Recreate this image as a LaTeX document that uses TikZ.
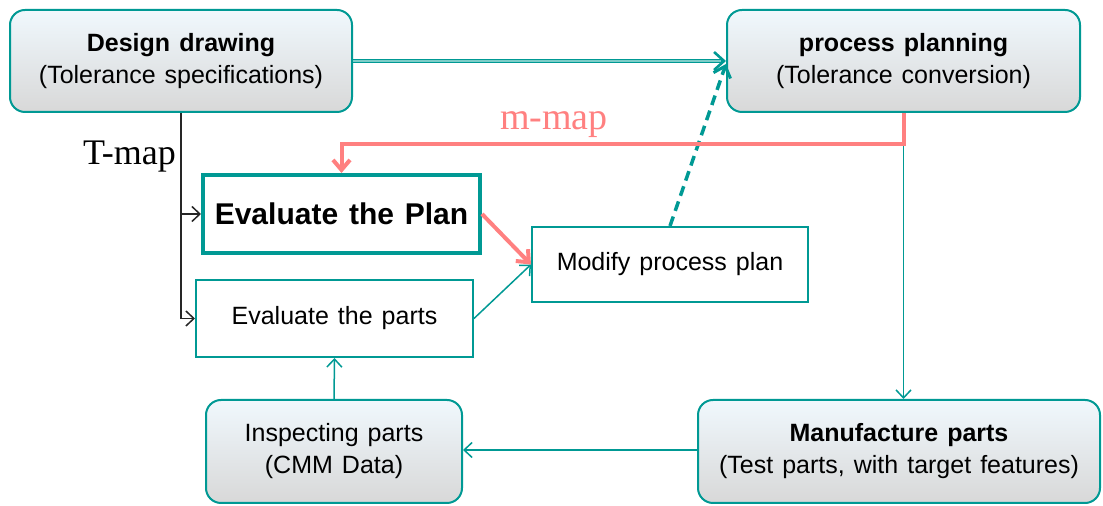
\documentclass[tikz,border=0pt]{standalone}
\usepackage{fontspec}
\setmainfont{Liberation Sans}[WordSpace=1.3]
\newfontfamily\serifface{Liberation Serif}
\usetikzlibrary{arrows.meta,calc}

\definecolor{tealc}{RGB}{0,153,148}
\definecolor{teallight}{RGB}{125,205,200}
\definecolor{salmon}{RGB}{255,128,128}
\definecolor{topc}{RGB}{240,248,253}
\definecolor{botc}{RGB}{216,216,216}

\tikzset{
  txt/.style={font=\fontsize{12.5}{16}\selectfont, align=center, inner sep=0pt},
  rbox/.style={txt, draw=tealc, line width=1pt, rounded corners=7.5pt,
               top color=topc, bottom color=botc},
  sbox/.style={txt, draw=tealc, line width=1pt, fill=white},
  flow/.style={draw=tealc, line width=0.75pt,
               -{Straight Barb[length=4pt,width=7.5pt,line width=0.75pt]}},
  tlink/.style={draw=black!85, line width=0.75pt,
               -{Straight Barb[length=4pt,width=7.5pt,line width=0.75pt]}},
  mlink/.style={draw=salmon, line width=2pt,
               -{Straight Barb[length=5pt,width=8.5pt,line width=2pt]}},
}

\begin{document}
\begin{tikzpicture}[x=0.5pt,y=-0.5pt]
\useasboundingbox (0,0) rectangle (1103,506);

% boxes
\node[rbox, minimum width=171pt, minimum height=51pt] (design) at (181,61)
  {\textbf{Design drawing}\\(Tolerance specifications)};
\node[rbox, minimum width=176.5pt, minimum height=51pt] (plan) at (903.5,61)
  {\textbf{process planning}\\(Tolerance conversion)};
\node[sbox, line width=2pt, minimum width=138.5pt, minimum height=39pt,
      font=\fontsize{15}{18}\selectfont\bfseries] (evalplan) at (341.5,214)
  {Evaluate the Plan};
\node[sbox, minimum width=138.5pt, minimum height=38.5pt] (evalparts) at (334.5,318.5)
  {Evaluate the parts};
\node[sbox, minimum width=138pt, minimum height=37.5pt] (modify) at (670,264.5)
  {Modify process plan};
\node[rbox, minimum width=128pt, minimum height=51.5pt] (inspect) at (334,451.5)
  {Inspecting parts\\(CMM Data)};
\node[rbox, minimum width=201pt, minimum height=51.5pt] (manuf) at (899,451.5)
  {\textbf{Manufacture parts}\\(Test parts, with target features)};

% labels
\node[font=\serifface\fontsize{18}{18}\selectfont, anchor=base, inner sep=0pt]
  (tmap) at (129.5,165) {T-map};
\node[font=\serifface\fontsize{19}{19}\selectfont, text=salmon, anchor=base, inner sep=0pt]
  (mmap) at (554,130) {m-map};

% main flow
\draw[flow] (evalparts.east) -- (modify.west);
\draw[flow] (plan.south) -- (plan.south |- manuf.north);
\draw[flow] ([yshift=0.75pt]manuf.west) -- ([yshift=0.75pt]inspect.east);
\draw[flow] (inspect.north) -- (evalparts.south);

% design -> process planning (double line)
\draw[draw=tealc, line width=2pt,
      -{Straight Barb[length=5pt,width=9pt,line width=1.3pt]}]
  (design.east) -- (plan.west);
\draw[draw=teallight, line width=0.8pt, shorten >=2.5pt] (design.east) -- (plan.west);

% modify -> process planning (dashed)
\draw[draw=tealc, line width=1.75pt, dash pattern=on 5pt off 3pt,
      -{Straight Barb[length=5pt,width=9pt,line width=1.5pt]}]
  (modify.north) -- ([yshift=-1.5pt]plan.west);

% m-map feedback
\coordinate (mm) at (0,144);
\draw[mlink] (plan.south) -- (plan.south |- mm) -| (evalplan.north);
\draw[mlink] (evalplan.east) -- (modify.west);

% T-map branches
\draw[tlink] (design.south) -- (design.south |- evalparts.west) -- (evalparts.west);
\draw[tlink] (design.south |- evalplan.west) -- (evalplan.west);

\end{tikzpicture}
\end{document}
